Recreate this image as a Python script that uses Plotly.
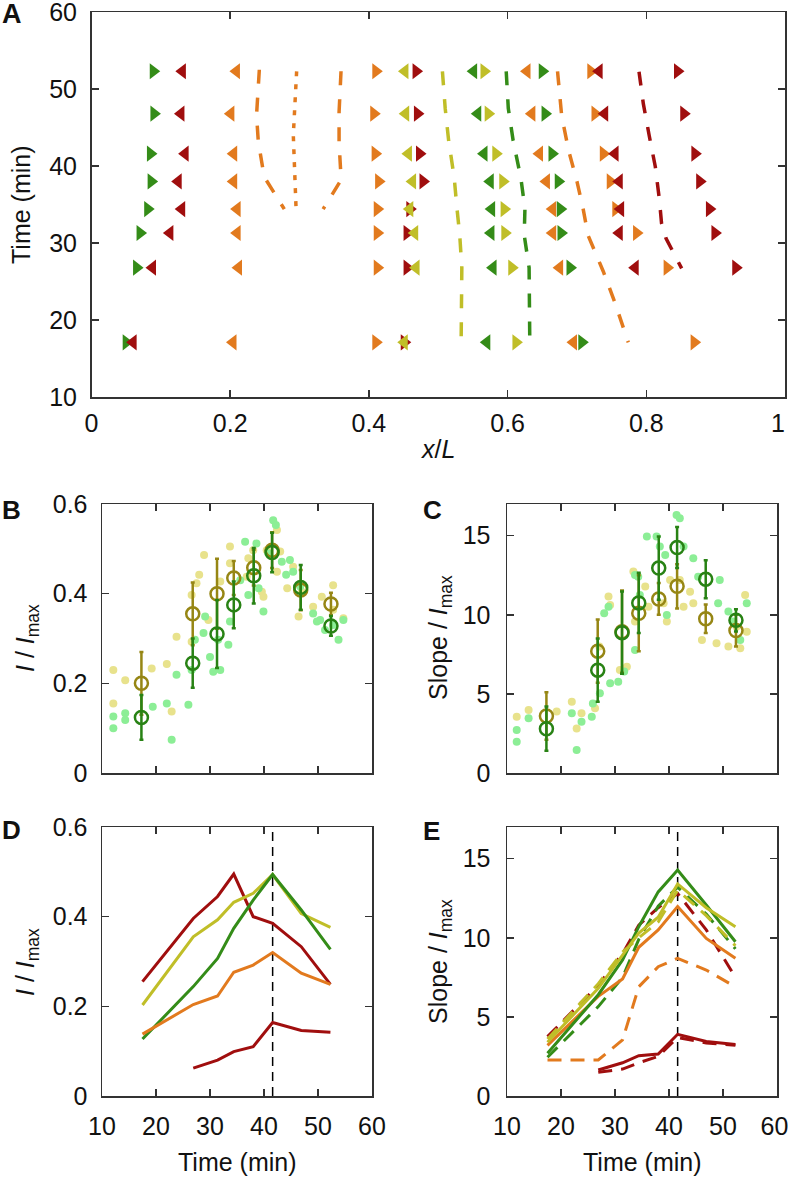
import plotly.graph_objects as go

W, H = 788, 1177

# ---------------- Panel A data ----------------
row_times = [17.1, 26.8, 31.3, 34.4, 38.0, 41.6, 46.8, 52.3]

green_right_a = [0.050, 0.065, 0.070, 0.081, 0.086, 0.085, 0.090, 0.089]
red_left_a = [0.060, 0.088, 0.113, 0.130, 0.125, 0.135, 0.129, 0.131]
orange_left_a = [0.204, 0.212, 0.210, 0.210, 0.205, 0.205, 0.201, 0.209]
orange_right_a = [0.410, 0.412, 0.412, 0.412, 0.414, 0.409, 0.407, 0.410]
red_right_b = [0.451, 0.455, 0.455, 0.459, 0.478, 0.473, 0.470, 0.468]
olive_left = [0.451, 0.468, 0.466, 0.459, 0.463, 0.457, 0.453, 0.452]
green_left = [0.570, 0.579, 0.576, 0.577, 0.575, 0.566, 0.557, 0.551]
olive_right = [0.612, 0.606, 0.596, 0.595, 0.593, 0.583, 0.572, 0.566]
orange_left_b = [0.695, 0.675, 0.665, 0.665, 0.656, 0.646, 0.635, 0.628]
green_right_b = [0.707, 0.690, 0.677, 0.676, 0.673, 0.664, 0.654, 0.650]
orange_right_b = [0.869, 0.830, 0.786, 0.756, 0.748, 0.738, 0.726, 0.720]
red_left_b = [None, 0.784, 0.761, 0.763, 0.761, 0.755, 0.740, 0.732]
red_right_c = [None, 0.929, 0.899, 0.891, 0.877, 0.870, 0.854, 0.845]

# boundary traces (x/L, time)
orange_bound1_x = [0.242, 0.238, 0.2405, 0.249, 0.278]
orange_bound1_t = [52.5, 46.6, 43.2, 38.6, 34.4]
orange_dot_x = [0.2958, 0.291, 0.295]
orange_dot_t = [52.3, 44.0, 34.4]
orange_bound2_x = [0.3598, 0.357, 0.357, 0.360, 0.334]
orange_bound2_t = [52.3, 47.0, 43.0, 38.2, 34.4]
olive_bound_x = [0.506, 0.510, 0.515, 0.523, 0.527, 0.531, 0.534, 0.534, 0.533]
olive_bound_t = [52.3, 47.5, 43.3, 38.5, 34.5, 31.0, 26.8, 22.0, 17.1]
green_bound_x = [0.598, 0.601, 0.608, 0.619, 0.625, 0.624, 0.631, 0.631, 0.632]
green_bound_t = [52.3, 47.5, 43.3, 38.5, 34.5, 31.0, 26.8, 22.0, 17.1]
orange_bound3_x = [0.672, 0.678, 0.688, 0.700, 0.709, 0.716, 0.738, 0.755, 0.774]
orange_bound3_t = [52.3, 46.5, 42.0, 38.0, 34.4, 31.0, 26.3, 22.2, 17.1]
red_bound_x = [0.7895, 0.7957, 0.8043, 0.813, 0.8188, 0.822, 0.8284, 0.851]
red_bound_t = [52.25, 48.1, 43.9, 39.9, 35.7, 32.55, 30.6, 26.7]

# ---------------- Panels B/C data ----------------
frame_times = [17.3, 26.8, 31.3, 34.4, 38.1, 41.5, 46.8, 52.4]

b_yel_t = [12.1, 12.1, 14.3, 19.2, 22.0, 22.9, 23.8, 26.6, 26.6, 27.5, 28.0, 28.9, 29.7, 31.9,
           33.7, 33.7, 37.1, 36.8, 38.0, 39.6, 39.9, 40.5, 42.4, 42.4, 43.0, 44.3, 45.4, 46.4,
           47.0, 49.1, 50.7, 52.8, 52.8, 54.7]
b_yel_v = [0.230, 0.155, 0.207, 0.233, 0.243, 0.137, 0.304, 0.293, 0.397, 0.423, 0.442, 0.486,
           0.341, 0.427, 0.505, 0.468, 0.479, 0.438, 0.497, 0.404, 0.393, 0.497, 0.542, 0.449,
           0.494, 0.412, 0.460, 0.349, 0.404, 0.371, 0.393, 0.419, 0.364, 0.345]
b_grn_t = [12.1, 12.1, 14.3, 14.3, 19.4, 22.0, 22.9, 23.8, 26.0, 26.6, 27.2, 28.8, 29.1, 30.0,
           30.6, 31.9, 31.5, 33.4, 33.7, 35.6, 36.5, 37.1, 38.6, 39.0, 39.9, 40.8, 41.7, 42.2,
           43.3, 44.1, 44.8, 45.4, 46.7, 49.1, 49.8, 50.4, 51.3, 52.8, 53.8, 54.7]
b_grn_v = [0.126, 0.100, 0.133, 0.118, 0.148, 0.155, 0.074, 0.219, 0.152, 0.230, 0.297, 0.312,
           0.349, 0.259, 0.226, 0.230, 0.297, 0.286, 0.338, 0.430, 0.516, 0.397, 0.512, 0.412,
           0.360, 0.490, 0.564, 0.553, 0.471, 0.442, 0.475, 0.449, 0.416, 0.356, 0.338, 0.341,
           0.319, 0.330, 0.297, 0.341]
b_olive_mean = [0.200, 0.355, 0.400, 0.435, 0.458, 0.497, 0.408, 0.377]
b_olive_err = [0.070, 0.070, 0.078, 0.038, 0.040, 0.040, 0.045, 0.025]
b_green_mean = [0.124, 0.245, 0.310, 0.375, 0.440, 0.492, 0.414, 0.328]
b_green_err = [0.050, 0.055, 0.076, 0.052, 0.062, 0.044, 0.050, 0.022]

c_yel_t = [11.8, 14.0, 19.2, 22.0, 22.9, 23.8, 26.3, 27.1, 28.8, 29.1, 30.9, 32.2, 33.4, 33.7,
           35.6, 36.2, 39.0, 39.6, 40.2, 42.0, 42.7, 43.9, 44.5, 46.1, 48.8, 51.0, 52.5, 53.2,
           54.1, 54.4]
c_yel_v = [3.56, 3.98, 3.88, 4.51, 2.82, 3.77, 4.09, 7.99, 11.15, 10.62, 6.51, 6.72, 12.73,
           9.57, 11.78, 10.51, 10.72, 9.57, 12.20, 12.20, 10.51, 11.46, 10.72, 8.41, 8.20, 7.99,
           9.25, 7.88, 11.25, 8.93]
c_grn_t = [11.8, 11.8, 14.0, 22.9, 22.0, 23.8, 25.7, 25.9, 27.2, 28.0, 28.8, 29.1, 30.6, 31.7,
           33.7, 33.7, 34.3, 34.6, 35.9, 37.7, 38.3, 39.3, 39.6, 41.4, 42.0, 42.7, 44.5, 45.4,
           49.4, 49.1, 51.0, 51.9, 53.2, 54.4]
c_grn_v = [2.72, 1.98, 3.46, 1.45, 3.77, 3.24, 3.56, 4.40, 5.04, 10.09, 10.51, 5.67, 5.77, 6.41,
           7.77, 12.52, 12.41, 11.25, 14.94, 14.94, 14.31, 13.78, 9.99, 16.31, 16.10, 14.31,
           13.57, 12.41, 12.20, 10.72, 10.20, 9.57, 8.41, 10.72]
c_olive_mean = [3.60, 7.70, 8.93, 10.10, 11.00, 11.80, 9.75, 9.00]
c_olive_err = [1.5, 2.0, 2.6, 2.4, 1.0, 1.4, 0.9, 1.0]
c_green_mean = [2.80, 6.50, 8.87, 10.75, 12.95, 14.25, 12.25, 9.65]
c_green_err = [1.4, 2.0, 2.6, 1.9, 2.0, 1.3, 1.2, 0.7]

# ---------------- Panels D/E data ----------------
line_times = [17.5, 26.9, 31.4, 34.4, 38.0, 41.6, 46.9, 52.3]
peak_time = 41.6

d_red_top = [0.255, 0.396, 0.445, 0.495, 0.400, 0.385, 0.333, 0.249]
d_olive = [0.203, 0.355, 0.393, 0.432, 0.452, 0.494, 0.407, 0.376]
d_green = [0.127, 0.244, 0.307, 0.374, 0.437, 0.494, 0.415, 0.327]
d_orange = [0.138, 0.204, 0.223, 0.276, 0.292, 0.320, 0.274, 0.249]
d_red_bottom = [None, 0.062, 0.080, 0.099, 0.110, 0.164, 0.146, 0.142]

e_green_solid = [2.70, 6.40, 8.60, 10.70, 12.90, 14.28, 12.07, 9.75]
e_green_dash = [2.45, 5.65, 7.50, 9.90, 12.00, 13.20, 11.50, 9.30]
e_olive_solid = [3.40, 6.80, 8.90, 10.30, 11.30, 13.40, 11.90, 10.70]
e_olive_dash = [3.60, 7.10, 9.10, 10.00, 11.00, 13.00, 11.40, 9.50]
e_orange_solid = [3.20, 6.30, 7.40, 9.40, 10.50, 11.97, 9.96, 8.70]
e_orange_dash = [2.28, 2.28, 3.54, 6.90, 8.17, 8.70, 7.96, 6.90]
e_red_dash_top = [3.75, 7.00, 9.00, 10.80, 11.90, 12.80, 10.50, 7.50]
e_red_solid_bottom = [None, 1.64, 2.10, 2.55, 2.65, 3.90, 3.45, 3.25]
e_red_dash_bottom = [None, 1.50, 1.70, 2.10, 2.50, 3.70, 3.35, 3.20]

# tick labels
xA_ticks = [0, 0.2, 0.4, 0.6, 0.8, 1]
xA_labels = ["0", "0.2", "0.4", "0.6", "0.8", "1\u00a0\u00a0"]
time_ticks = [10, 20, 30, 40, 50, 60]
time_labels = ["10", "20", "30", "40", "50", "60"]
time_labels_right = ["10", "20", "30", "40", "50", "60\u2009"]

# ---------------- styling ----------------
RED = "rgb(160,14,14)"
GREEN = "rgb(52,140,24)"
ORANGE = "rgb(226,122,30)"
OLIVE = "rgb(192,190,40)"
LT_YEL = "rgb(232,226,140)"
LT_GRN = "rgb(140,238,150)"
DK_OLIVE = "rgb(150,134,20)"
DK_GREEN = "rgb(40,130,20)"
FONT = "Liberation Sans, Arial, Helvetica, sans-serif"
FS = 25


def px_dom_x(a, b):
    return [a / W, b / W]


def px_dom_y(top, bottom):
    return [1 - bottom / H, 1 - top / H]


fig = go.Figure()

# ---- Panel A ----
tri_series = [
    (green_right_a, GREEN, "triangle-right"),
    (red_left_a, RED, "triangle-left"),
    (orange_left_a, ORANGE, "triangle-left"),
    (orange_right_a, ORANGE, "triangle-right"),
    (red_right_b, RED, "triangle-right"),
    (olive_left, OLIVE, "triangle-left"),
    (green_left, GREEN, "triangle-left"),
    (olive_right, OLIVE, "triangle-right"),
    (orange_left_b, ORANGE, "triangle-left"),
    (green_right_b, GREEN, "triangle-right"),
    (orange_right_b, ORANGE, "triangle-right"),
    (red_left_b, RED, "triangle-left"),
    (red_right_c, RED, "triangle-right"),
]
for xs, col, sym in tri_series:
    fig.add_trace(go.Scatter(x=xs, y=row_times, mode="markers", xaxis="x", yaxis="y",
                             marker=dict(symbol=sym, size=14, color=col, line=dict(width=0)),
                             showlegend=False, hoverinfo="skip"))

bounds = [
    (orange_bound1_x, orange_bound1_t, ORANGE, "14px,14px"),
    (orange_dot_x, orange_dot_t, ORANGE, "5px,8px"),
    (orange_bound2_x, orange_bound2_t, ORANGE, "14px,14px"),
    (olive_bound_x, olive_bound_t, OLIVE, "14px,14px"),
    (green_bound_x, green_bound_t, GREEN, "14px,14px"),
    (orange_bound3_x, orange_bound3_t, ORANGE, "14px,14px"),
    (red_bound_x, red_bound_t, RED, "14px,14px"),
]
for xs, ts, col, dash in bounds:
    fig.add_trace(go.Scatter(x=xs, y=ts, mode="lines", xaxis="x", yaxis="y",
                             line=dict(color=col, width=3.5, dash=dash),
                             showlegend=False, hoverinfo="skip"))

# ---- Panels B, C ----
for (yt, yv, gt, gv, om, oe, gm, ge, xa, ya) in [
    (b_yel_t, b_yel_v, b_grn_t, b_grn_v, b_olive_mean, b_olive_err, b_green_mean, b_green_err, "x2", "y2"),
    (c_yel_t, c_yel_v, c_grn_t, c_grn_v, c_olive_mean, c_olive_err, c_green_mean, c_green_err, "x3", "y3"),
]:
    fig.add_trace(go.Scatter(x=yt, y=yv, mode="markers", xaxis=xa, yaxis=ya,
                             marker=dict(size=8, color=LT_YEL), showlegend=False, hoverinfo="skip"))
    fig.add_trace(go.Scatter(x=gt, y=gv, mode="markers", xaxis=xa, yaxis=ya,
                             marker=dict(size=8, color=LT_GRN), showlegend=False, hoverinfo="skip"))
    fig.add_trace(go.Scatter(x=frame_times, y=om, mode="markers", xaxis=xa, yaxis=ya,
                             error_y=dict(type="data", array=oe, color=DK_OLIVE, thickness=2.5, width=2),
                             marker=dict(symbol="circle-open", size=13, color=DK_OLIVE, line=dict(width=2.5)),
                             showlegend=False, hoverinfo="skip"))
    fig.add_trace(go.Scatter(x=frame_times, y=gm, mode="markers", xaxis=xa, yaxis=ya,
                             error_y=dict(type="data", array=ge, color=DK_GREEN, thickness=2.5, width=2),
                             marker=dict(symbol="circle-open", size=13, color=DK_GREEN, line=dict(width=2.5)),
                             showlegend=False, hoverinfo="skip"))

# ---- Panel D ----
fig.add_trace(go.Scatter(x=[peak_time, peak_time], y=[0, 0.6], mode="lines", xaxis="x4", yaxis="y4",
                         line=dict(color="black", width=1.5, dash="9px,6px"), showlegend=False,
                         hoverinfo="skip"))
for ys, col in [(d_red_top, RED), (d_olive, OLIVE), (d_green, GREEN), (d_orange, ORANGE),
                (d_red_bottom, RED)]:
    fig.add_trace(go.Scatter(x=line_times, y=ys, mode="lines", xaxis="x4", yaxis="y4",
                             line=dict(color=col, width=3), showlegend=False, hoverinfo="skip"))

# ---- Panel E ----
fig.add_trace(go.Scatter(x=[peak_time, peak_time], y=[0, 17], mode="lines", xaxis="x5", yaxis="y5",
                         line=dict(color="black", width=1.5, dash="9px,6px"), showlegend=False,
                         hoverinfo="skip"))
for ys, col, dash in [
    (e_orange_dash, ORANGE, "14px,9px"),
    (e_red_dash_top, RED, "14px,9px"),
    (e_green_dash, GREEN, "14px,9px"),
    (e_olive_dash, OLIVE, "14px,9px"),
    (e_red_dash_bottom, RED, "14px,9px"),
    (e_orange_solid, ORANGE, "solid"),
    (e_green_solid, GREEN, "solid"),
    (e_olive_solid, OLIVE, "solid"),
    (e_red_solid_bottom, RED, "solid"),
]:
    fig.add_trace(go.Scatter(x=line_times, y=ys, mode="lines", xaxis="x5", yaxis="y5",
                             line=dict(color=col, width=3, dash=dash), showlegend=False,
                             hoverinfo="skip"))


def axis(domain, rng, tickvals, anchor, show=True, standoff=8, ticktext=None):
    d = dict(domain=domain, range=rng, tickmode="array", tickvals=tickvals,
             ticks="inside", ticklen=7, tickwidth=1.5, tickcolor="#333",
             showline=True, linecolor="#333", linewidth=1.5, mirror="allticks",
             showgrid=False, zeroline=False, showticklabels=show, anchor=anchor,
             automargin=False, ticklabeloverflow="allow", fixedrange=True,
             tickfont=dict(family=FONT, size=FS, color="#111"),
             ticklabelstandoff=standoff)
    if ticktext is not None:
        d["ticktext"] = ticktext
    return d


xA = px_dom_x(91.5, 785)
yA = px_dom_y(12, 397)
xL = px_dom_x(102, 372)
xR = px_dom_x(507, 777)
yM = px_dom_y(504, 773)
yB = px_dom_y(827, 1096)

fig.update_layout(
    width=W, height=H, margin=dict(l=0, r=0, t=0, b=0, autoexpand=False),
    paper_bgcolor="white", plot_bgcolor="white",
    xaxis=axis(xA, [0, 1], xA_ticks, "y", standoff=3, ticktext=xA_labels),
    yaxis=axis(yA, [10, 60], [10, 20, 30, 40, 50, 60], "x", standoff=8),
    xaxis2=axis(xL, [10, 60], [20, 30, 40, 50], "y2", show=False),
    yaxis2=axis(yM, [0, 0.6], [0, 0.2, 0.4, 0.6], "x2", standoff=8),
    xaxis3=axis(xR, [10, 60], [20, 30, 40, 50], "y3", show=False),
    yaxis3=axis(yM, [0, 17], [0, 5, 10, 15], "x3", standoff=10),
    xaxis4=axis(xL, [10, 60], time_ticks, "y4", standoff=7, ticktext=time_labels),
    yaxis4=axis(yB, [0, 0.6], [0, 0.2, 0.4, 0.6], "x4", standoff=8),
    xaxis5=axis(xR, [10, 60], time_ticks, "y5", standoff=7, ticktext=time_labels_right),
    yaxis5=axis(yB, [0, 17], [0, 5, 10, 15], "x5", standoff=10),
)


def ann(text, xpx, ypx, size=FS, angle=0, bold=False, xanchor="center"):
    fig.add_annotation(text=("<b>%s</b>" % text) if bold else text, xref="paper", yref="paper",
                       x=xpx / W, y=1 - ypx / H, showarrow=False, textangle=angle,
                       xanchor=xanchor, yanchor="middle",
                       font=dict(family=FONT, size=size, color="#111"))


# panel letters
ann("A", 0, 14, size=27, bold=True, xanchor="left")
ann("B", 0, 510, size=26, bold=True, xanchor="left")
ann("C", 421, 510, size=26, bold=True, xanchor="left")
ann("D", 0, 830, size=26, bold=True, xanchor="left")
ann("E", 421, 831, size=26, bold=True, xanchor="left")

# axis titles
ann("<i>x</i>/<i>L</i>", 438, 449)
ann("Time (min)", 21, 205, angle=-90)
ann("<i>I</i> / <i>I</i><sub>max</sub>", 27, 638, angle=-90)
ann("Slope / <i>I</i><sub>max</sub>", 440, 638, angle=-90)
ann("<i>I</i> / <i>I</i><sub>max</sub>", 27, 962, angle=-90)
ann("Slope / <i>I</i><sub>max</sub>", 440, 962, angle=-90)
ann("Time (min)", 237, 1162)
ann("Time (min)", 642, 1162)

fig.write_html("out.html", config={"displayModeBar": False, "staticPlot": True},
               post_script="document.body.style.margin='0';document.body.style.overflow='hidden';")
